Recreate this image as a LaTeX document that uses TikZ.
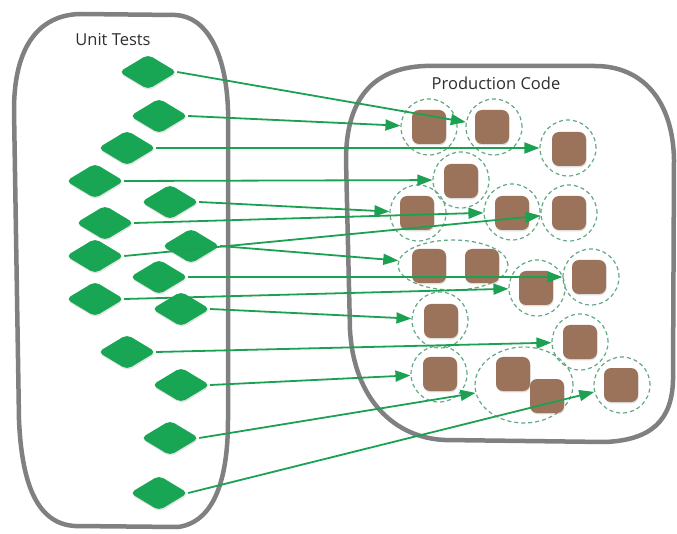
\documentclass[tikz,border=0pt]{standalone}
\usepackage{fontspec}
\setmainfont{Open Sans}
\usetikzlibrary{shapes.geometric,arrows.meta,shadows}
\definecolor{gfill}{HTML}{19A654}
\definecolor{gline}{HTML}{1CA152}
\definecolor{brownsq}{HTML}{9B735A}
\definecolor{dashc}{HTML}{62A882}
\definecolor{boxgray}{HTML}{808083}
\definecolor{txt}{HTML}{2E2E2E}
\tikzset{
  testd/.style={shape=diamond, fill=gfill, minimum width=58pt, minimum height=35pt, inner sep=0pt, rounded corners=5pt,
    drop shadow={opacity=0.22, shadow xshift=0.6pt, shadow yshift=-1.6pt}},
  codesq/.style={shape=rectangle, fill=brownsq, minimum width=34pt, minimum height=34pt, inner sep=0pt, rounded corners=7pt,
    drop shadow={opacity=0.25, shadow xshift=0.6pt, shadow yshift=-1.4pt}},
  cov/.style={shape=circle, draw=dashc, line width=1.2pt, dash pattern=on 4pt off 3pt, minimum size=56pt, inner sep=0pt},
  covel/.style={shape=ellipse, draw=dashc, line width=1.2pt, dash pattern=on 4pt off 3pt, inner sep=0pt},
  container/.style={draw=boxgray, line width=4.5pt, line join=round},
  link/.style={draw=gline, line width=1.8pt, -{Triangle[length=15pt, width=11pt]}},
  lbl/.style={text=txt, font=\fontsize{16.5}{20}\selectfont}
}
\begin{document}
\begin{tikzpicture}[x=1pt, y=-1pt]
\useasboundingbox (0,0) rectangle (677,534);
% containers
\draw[container] (14,110) .. controls (14,45) and (40,15) .. (80,14) -- (175,15)
  .. controls (205,16) and (226,50) .. (228,110) -- (228,420)
  .. controls (228,480) and (214,522) .. (178,527) -- (75,526)
  .. controls (40,524) and (22,490) .. (19,420) -- cycle;
\draw[container] (346,160) .. controls (346,100) and (372,68) .. (425,66) -- (595,66)
  .. controls (642,66) and (673,100) .. (674,160) -- (673,380)
  .. controls (672,420) and (652,440) .. (605,442) -- (445,440)
  .. controls (395,438) and (354,400) .. (350,330) -- cycle;
% labels
\node[lbl] (ut) at (113,40) {Unit Tests};
\node[lbl] (pc) at (496,83) {Production Code};
% coverage circles
\node[cov] (c1) at (429,127) {};
\node[cov] (c2) at (494,127) {};
\node[cov] (c3) at (568,148) {};
\node[cov] (c4) at (461,180) {};
\node[cov] (c5) at (418,213) {};
\node[cov] (c6) at (512,212) {};
\node[cov] (c7) at (569,213) {};
\node[covel, minimum width=110pt, minimum height=50pt] (e89) at (453,265) {};
\node[cov] (c10) at (537,288) {};
\node[cov] (c11) at (591,277) {};
\node[cov] (c12) at (440,320) {};
\node[cov] (c13) at (580,342) {};
\node[cov] (c14) at (439,374) {};
\node[covel, minimum width=98pt, minimum height=76pt] (e1516) at (524,385) {};
\node[cov] (c17) at (622,385) {};
% code squares
\node[codesq] (s1) at (429,127) {};
\node[codesq] (s2) at (492,127) {};
\node[codesq] (s3) at (569,149) {};
\node[codesq] (s4) at (461,181) {};
\node[codesq] (s5) at (417,213) {};
\node[codesq] (s6) at (512,213) {};
\node[codesq] (s7) at (569,213) {};
\node[codesq] (s8) at (429,266) {};
\node[codesq] (s9) at (482,266) {};
\node[codesq] (s10) at (536,288) {};
\node[codesq] (s11) at (589,277) {};
\node[codesq] (s12) at (441,321) {};
\node[codesq] (s13) at (580,342) {};
\node[codesq] (s14) at (440,374) {};
\node[codesq] (s15) at (513,374) {};
\node[codesq] (s16) at (547,396) {};
\node[codesq] (s17) at (621,385) {};
% tests
\node[testd] (d1) at (148,72) {};
\node[testd] (d2) at (159,116) {};
\node[testd] (d3) at (127,148) {};
\node[testd] (d4) at (95,181) {};
\node[testd] (d5) at (170,202) {};
\node[testd] (d6) at (105,223) {};
\node[testd] (d8) at (95,256) {};
\node[testd] (d7) at (191,246) {};
\node[testd] (d9) at (159,277) {};
\node[testd] (d10) at (95,299) {};
\node[testd] (d11) at (181,309) {};
\node[testd] (d12) at (127,352) {};
\node[testd] (d13) at (181,385) {};
\node[testd] (d14) at (170,438) {};
\node[testd] (d15) at (159,493) {};
% links
\draw[link] (d1.east) -- (c2);
\draw[link] (d2.east) -- (c1);
\draw[link] (d3.east) -- (c3);
\draw[link] (d4.east) -- (c4);
\draw[link] (d5.east) -- (c5);
\draw[link] (d6.east) -- (c6);
\draw[link] (d8.east) -- (c7);
\draw[link] (d7.east) -- (e89);
\draw[link] (d9.east) -- (c11);
\draw[link] (d10.east) -- (c10);
\draw[link] (d11.east) -- (c12);
\draw[link] (d12.east) -- (c13);
\draw[link] (d13.east) -- (c14);
\draw[link] (d14.east) -- (e1516);
\draw[link] (d15.east) -- (c17);
\end{tikzpicture}
\end{document}
